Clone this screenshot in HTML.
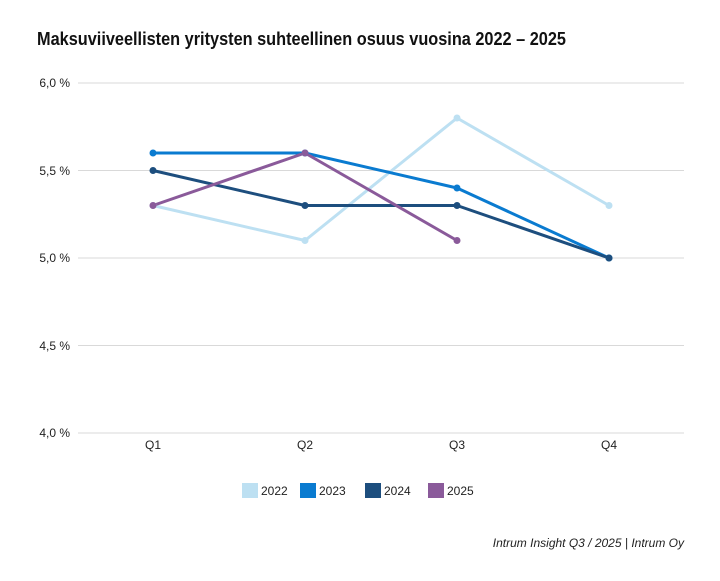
<!DOCTYPE html>
<html><head><meta charset="utf-8"><style>
body{margin:0;background:#fff;font-family:"Liberation Sans",sans-serif;}
</style></head><body>
<svg width="720" height="576" xmlns="http://www.w3.org/2000/svg" font-family="Liberation Sans, sans-serif">
<rect width="720" height="576" fill="#fff"/>
<text x="37" y="45" font-size="18" font-weight="bold" fill="#111" textLength="529" lengthAdjust="spacingAndGlyphs">Maksuviiveellisten yritysten suhteellinen osuus vuosina 2022 – 2025</text>
<g stroke="#d9d9d9" stroke-width="1">
<line x1="78" x2="684" y1="83" y2="83"/><line x1="78" x2="684" y1="170.5" y2="170.5"/>
<line x1="78" x2="684" y1="258" y2="258"/><line x1="78" x2="684" y1="345.5" y2="345.5"/>
<line x1="78" x2="684" y1="433" y2="433"/></g>
<g font-size="12" fill="#222" text-anchor="end">
<text x="70" y="87">6,0 %</text><text x="70" y="175">5,5 %</text><text x="70" y="262">5,0 %</text>
<text x="70" y="350">4,5 %</text><text x="70" y="437">4,0 %</text></g>
<g font-size="12" fill="#222" text-anchor="middle">
<text x="153" y="449">Q1</text><text x="305" y="449">Q2</text><text x="457" y="449">Q3</text><text x="609" y="449">Q4</text></g>
<g fill="none" stroke-width="3" stroke-linejoin="round">
<polyline stroke="#bde0f2" points="153,205.5 305,240.5 457,118 609,205.5"/>
<polyline stroke="#0a7bd0" points="153,153 305,153 457,188 609,258"/>
<polyline stroke="#1d4e7e" points="153,170.5 305,205.5 457,205.5 609,258"/>
<polyline stroke="#8a5a9a" points="153,205.5 305,153 457,240.5"/>
</g>
<g fill="#bde0f2"><circle cx="153" cy="205.5" r="3.5"/><circle cx="305" cy="240.5" r="3.5"/><circle cx="457" cy="118" r="3.5"/><circle cx="609" cy="205.5" r="3.5"/></g>
<g fill="#0a7bd0"><circle cx="153" cy="153" r="3.5"/><circle cx="305" cy="153" r="3.5"/><circle cx="457" cy="188" r="3.5"/><circle cx="609" cy="258" r="3.5"/></g>
<g fill="#1d4e7e"><circle cx="153" cy="170.5" r="3.5"/><circle cx="305" cy="205.5" r="3.5"/><circle cx="457" cy="205.5" r="3.5"/><circle cx="609" cy="258" r="3.5"/></g>
<g fill="#8a5a9a"><circle cx="153" cy="205.5" r="3.5"/><circle cx="305" cy="153" r="3.5"/><circle cx="457" cy="240.5" r="3.5"/></g>
<g font-size="12" fill="#222">
<rect x="242" y="483" width="16" height="15" fill="#bde0f2"/><text x="261" y="495">2022</text>
<rect x="300" y="483" width="16" height="15" fill="#0a7bd0"/><text x="319" y="495">2023</text>
<rect x="365" y="483" width="16" height="15" fill="#1d4e7e"/><text x="384" y="495">2024</text>
<rect x="428" y="483" width="16" height="15" fill="#8a5a9a"/><text x="447" y="495">2025</text>
</g>
<text x="684" y="547" font-size="12" font-style="italic" fill="#222" text-anchor="end">Intrum Insight Q3 / 2025 | Intrum Oy</text>
</svg>
</body></html>
